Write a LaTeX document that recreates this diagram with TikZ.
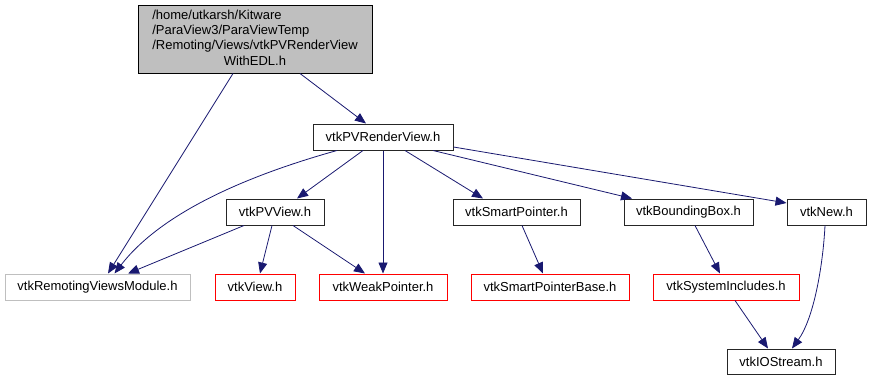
\documentclass[tikz,border=0pt]{standalone}
\usepackage{fontspec}
\setmainfont{Liberation Sans}
\usetikzlibrary{arrows.meta}
\definecolor{edgeblue}{HTML}{191970}
\definecolor{rootgray}{HTML}{BFBFBF}
\definecolor{extgray}{HTML}{BFBFBF}
\definecolor{linkred}{HTML}{FF0000}
\begin{document}
\begin{tikzpicture}[x=1pt,y=-1pt,
  every node/.style={font=\fontsize{13}{15}\selectfont, inner sep=0pt},
  filebox/.style={draw=black!85, line width=1pt, fill=white, minimum height=26pt},
  redbox/.style={draw=linkred, line width=1pt, fill=white, minimum height=26pt},
  graybox/.style={draw=extgray, line width=1pt, fill=white, minimum height=26pt},
  dep/.style={draw=edgeblue, line width=0.8pt, -{Triangle[length=11pt,width=9pt]}}]
\useasboundingbox (0,0) rectangle (871,380);

% header being documented
\node[draw=black, line width=1pt, fill=rootgray, minimum width=234pt, minimum height=68pt]
  (root) at (255,39) {\raisebox{-2pt}{\fontsize{13}{15.3}\selectfont\begin{tabular}{@{}l@{}}
    /home/utkarsh/Kitware\\
    /ParaView3/ParaViewTemp\\
    /Remoting/Views/vtkPVRenderView\\
    \multicolumn{1}{@{}c@{}}{WithEDL.h}
  \end{tabular}}};

% included headers
\node[filebox, minimum width=140pt] (rv)   at (383,137)   {vtkPVRenderView.h};
\node[filebox, minimum width=98pt]  (pv)   at (275,212)   {vtkPVView.h};
\node[filebox, minimum width=127pt] (sp)   at (516.5,212) {vtkSmartPointer.h};
\node[filebox, minimum width=129pt] (bb)   at (688.5,212) {vtkBoundingBox.h};
\node[filebox, minimum width=79pt]  (new)  at (826.5,212) {vtkNew.h};
\node[graybox, minimum width=185pt] (rvm)  at (97.5,287)  {vtkRemotingViewsModule.h};
\node[redbox,  minimum width=80pt]  (view) at (255,287)   {vtkView.h};
\node[redbox,  minimum width=128pt] (wp)   at (383,287)   {vtkWeakPointer.h};
\node[redbox,  minimum width=158pt] (spb)  at (550,287)   {vtkSmartPointerBase.h};
\node[redbox,  minimum width=146pt] (si)   at (726,287)   {vtkSystemIncludes.h};
\node[filebox, minimum width=108pt, minimum height=25pt] (io) at (781,361.5) {vtkIOStream.h};

% include edges
\draw[dep] ([xshift=-22pt]root.south) -- ([xshift=10.5pt]rvm.north);
\draw[dep] ([xshift=45pt]root.south) -- ([xshift=-17pt]rv.north);

\draw[dep] ([xshift=-46pt]rv.south) .. controls (260,172) and (165,208) .. ([xshift=17pt]rvm.north);
\draw[dep] ([xshift=-20pt]rv.south) -- ([xshift=22pt]pv.north);
\draw[dep] (rv.south) -- (wp.north);
\draw[dep] ([xshift=22pt]rv.south) -- ([xshift=-33.5pt]sp.north);
\draw[dep] ([xshift=50pt]rv.south) -- ([xshift=-56.5pt]bb.north);
\draw[dep] ([yshift=-10pt]rv.east) -- ([yshift=9pt]new.west);

\draw[dep] ([xshift=-31pt]pv.south) -- ([xshift=30.5pt]rvm.north);
\draw[dep] ([xshift=-3pt]pv.south) -- ([xshift=5pt]view.north);
\draw[dep] ([xshift=18pt]pv.south) -- ([xshift=-18pt]wp.north);

\draw[dep] ([xshift=5.5pt]sp.south) -- ([xshift=-7pt]spb.north);
\draw[dep] ([xshift=6.5pt]bb.south) -- ([xshift=-6pt]si.north);
\draw[dep] ([xshift=9pt]si.south) -- ([xshift=-13pt]io.north);
\draw[dep] ([xshift=-1.5pt]new.south) .. controls (823,265) and (814,318) .. ([xshift=11pt]io.north);
\end{tikzpicture}
\end{document}
